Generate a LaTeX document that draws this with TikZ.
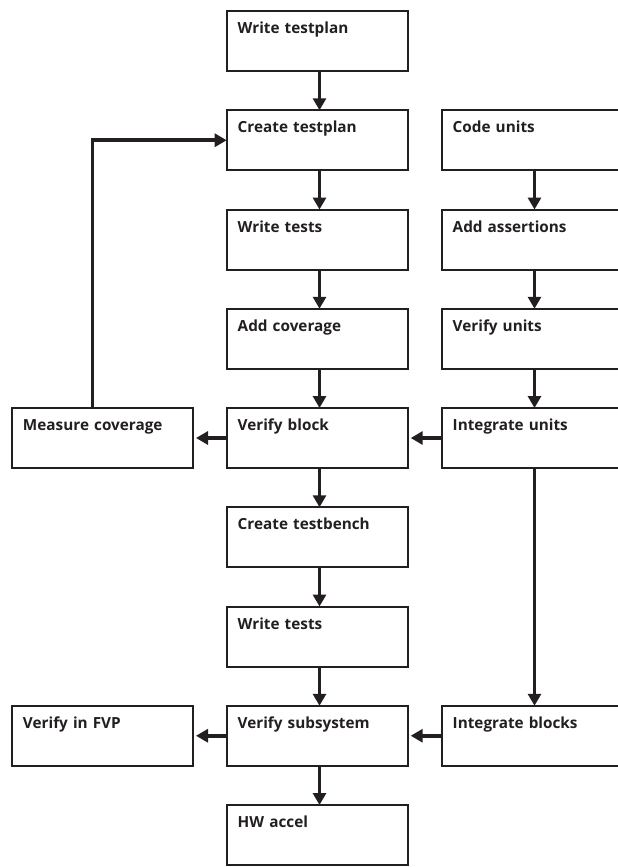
\documentclass[tikz,border=0pt]{standalone}
\usepackage{fontspec}
\setmainfont{Open Sans}
\usetikzlibrary{arrows.meta}
\definecolor{ink}{HTML}{231F20}
\begin{document}
\begin{tikzpicture}[x=1pt,y=-1pt,
  stepbox/.style={draw=ink, line width=2pt, anchor=north west,
    minimum width=181pt, text width=159pt, align=left,
    inner xsep=11pt, inner ysep=0pt, outer sep=0pt,
    text height=22.5pt, text depth=37.5pt,
    text=ink, font=\fontsize{15.3}{17}\selectfont\bfseries},
  arr/.style={draw=ink, line width=3.8pt, -{Triangle[width=13pt,length=12pt]}},
  down/.style={arr},
  side/.style={arr, shorten >=3pt}
]
\clip (0,0) rectangle (618,867);

% centre column
\node[stepbox] (c0) at (226.7, 11)     {Write testplan};
\node[stepbox] (c1) at (226.7, 110.25) {Create testplan};
\node[stepbox] (c2) at (226.7, 209.5)  {Write tests};
\node[stepbox] (c3) at (226.7, 308.75) {Add coverage};
\node[stepbox] (c4) at (226.7, 408)    {Verify block};
\node[stepbox] (c5) at (226.7, 507.25) {Create testbench};
\node[stepbox] (c6) at (226.7, 606.5)  {Write tests};
\node[stepbox] (c7) at (226.7, 705.75) {Verify subsystem};
\node[stepbox] (c8) at (226.7, 805)    {HW accel};

% right column
\node[stepbox] (r1) at (441.7, 110.25) {Code units};
\node[stepbox] (r2) at (441.7, 209.5)  {Add assertions};
\node[stepbox] (r3) at (441.7, 308.75) {Verify units};
\node[stepbox] (r4) at (441.7, 408)    {Integrate units};
\node[stepbox] (r7) at (441.7, 705.75) {Integrate blocks};

% left column
\node[stepbox] (l4) at (12, 408)    {Measure coverage};
\node[stepbox] (l7) at (12, 705.75) {Verify in FVP};

% vertical flow, centre column
\foreach \a/\b in {c0/c1, c1/c2, c2/c3, c3/c4, c4/c5, c5/c6, c6/c7, c7/c8}
  \draw[down] ([xshift=2.3pt]\a.south) -- ([xshift=2.3pt]\b.north);

% vertical flow, right column
\foreach \a/\b in {r1/r2, r2/r3, r3/r4, r4/r7}
  \draw[down] ([xshift=2.3pt]\a.south) -- ([xshift=2.3pt]\b.north);

% sideways links
\draw[side] (c4.west) -- (l4.east);
\draw[side] (r4.west) -- (c4.east);
\draw[side] (c7.west) -- (l7.east);
\draw[side] (r7.west) -- (c7.east);

% coverage feedback loop
\draw[arr] ([xshift=-10pt]l4.north) |- (c1.west);
\end{tikzpicture}
\end{document}
